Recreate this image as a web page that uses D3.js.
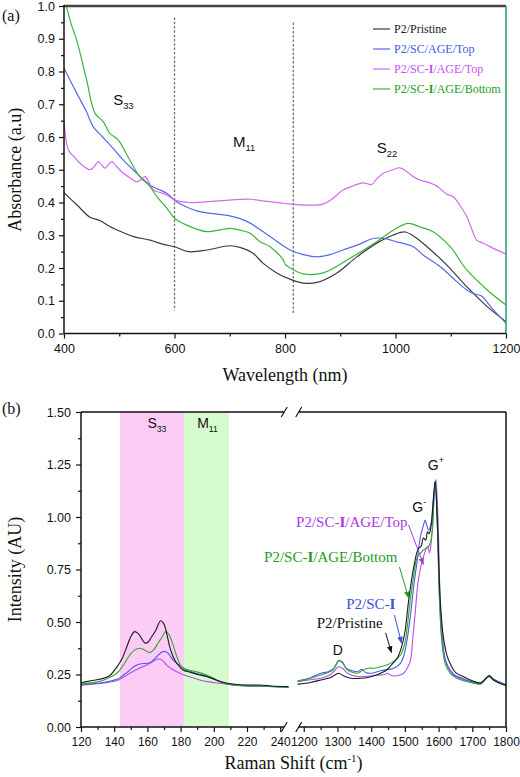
<!DOCTYPE html>
<html><head><meta charset="utf-8">
<script src="https://cdn.jsdelivr.net/npm/d3@7"></script>
<style>body{margin:0;background:#fff}</style>
</head><body>
<svg id="c" width="520" height="777" xmlns="http://www.w3.org/2000/svg"></svg>
<script>
// ---------- DATA: panel (a) absorbance ----------
const seriesNames = ["P2/Pristine", "P2/SC/AGE/Top", "P2/SC-I/AGE/Top", "P2/SC-I/AGE/Bottom"];
const absPristine = [[400,0.43],[425,0.39],[447,0.355],[465,0.345],[483,0.327],[505,0.31],[526,0.296],[556,0.285],[580,0.272],[600,0.265],[625,0.25],[659,0.255],[700,0.268],[720,0.262],[742,0.245],[760,0.215],[785,0.185],[809,0.166],[833,0.154],[858,0.156],[894,0.185],[930,0.234],[966,0.276],[995,0.3],[1017,0.31],[1035,0.295],[1057,0.265],[1093,0.209],[1129,0.143],[1166,0.082],[1200,0.036]];
const absSCTop = [[400,0.81],[423,0.734],[440,0.68],[453,0.631],[470,0.6],[489,0.565],[507,0.53],[525,0.5],[556,0.453],[586,0.428],[602,0.404],[620,0.388],[646,0.372],[700,0.359],[720,0.35],[737,0.337],[773,0.296],[809,0.255],[835,0.24],[858,0.234],[880,0.24],[905,0.255],[935,0.273],[959,0.29],[975,0.291],[1002,0.28],[1032,0.265],[1050,0.24],[1081,0.204],[1110,0.16],[1129,0.133],[1145,0.12],[1155,0.115],[1177,0.072],[1200,0.032]];
const absSCITop = [[400,0.65],[408,0.56],[418,0.54],[429,0.52],[447,0.5],[455,0.51],[462,0.525],[468,0.515],[474,0.505],[480,0.515],[487,0.525],[495,0.51],[507,0.49],[520,0.475],[532,0.463],[540,0.47],[547,0.479],[554,0.46],[562,0.438],[575,0.43],[586,0.423],[600,0.408],[628,0.4],[680,0.405],[737,0.41],[760,0.405],[800,0.397],[840,0.392],[869,0.395],[885,0.41],[905,0.438],[925,0.452],[941,0.46],[957,0.455],[965,0.47],[978,0.489],[995,0.5],[1008,0.506],[1020,0.495],[1032,0.479],[1045,0.468],[1057,0.463],[1075,0.45],[1093,0.425],[1104,0.418],[1117,0.39],[1129,0.357],[1140,0.31],[1147,0.285],[1160,0.275],[1177,0.26],[1200,0.243]];
const absSCIBottom = [[400,1.03],[412,0.95],[423,0.896],[441,0.774],[456,0.673],[471,0.647],[483,0.611],[498,0.591],[514,0.545],[537,0.479],[556,0.448],[568,0.418],[586,0.383],[600,0.352],[622,0.331],[658,0.311],[700,0.321],[720,0.315],[737,0.306],[755,0.28],[773,0.265],[797,0.224],[800,0.212],[805,0.205],[833,0.182],[869,0.185],[918,0.23],[966,0.28],[1000,0.32],[1023,0.336],[1045,0.325],[1068,0.311],[1099,0.265],[1129,0.194],[1166,0.133],[1200,0.087]];
const xTicksA = [400,600,800,1000,1200];
const xMinorA = [500,700,900,1100];
const yTicksA = [0,0.1,0.2,0.3,0.4,0.5,0.6,0.7,0.8,0.9,1.0];
const yMinorA = [0.05,0.15,0.25,0.35,0.45,0.55,0.65,0.75,0.85,0.95];
const dividersA = [600, 815];

// ---------- DATA: panel (b) Raman ----------
const rbmPristine = [[120,0.211],[126,0.22],[131,0.227],[137,0.243],[142,0.29],[145,0.33],[147.6,0.382],[150,0.43],[152.4,0.454],[155,0.44],[158.5,0.40],[160.5,0.405],[162.6,0.43],[165,0.46],[168,0.506],[170,0.49],[171.6,0.446],[173.5,0.38],[175.5,0.335],[178,0.3],[181.5,0.271],[186,0.26],[191.5,0.248],[196,0.24],[201.5,0.224],[206,0.212],[211.5,0.205],[220,0.2],[227.5,0.2],[235,0.195],[245,0.192]];
const rbmSCI = [[120,0.2],[130,0.208],[141.6,0.227],[146,0.25],[149.4,0.271],[152,0.288],[155.5,0.3],[161.5,0.306],[165,0.33],[169.3,0.359],[172,0.355],[175.5,0.319],[180,0.29],[183.7,0.271],[190,0.255],[195.5,0.243],[203.5,0.216],[211.5,0.2],[225,0.195],[245,0.19]];
const rbmSCITop = [[120,0.2],[130,0.206],[141.6,0.221],[146,0.24],[151,0.263],[155,0.28],[159.6,0.295],[163,0.31],[166.3,0.324],[169,0.318],[171.6,0.295],[175,0.275],[179.5,0.256],[185,0.24],[191.5,0.224],[197,0.215],[203.5,0.208],[211.5,0.2],[225,0.195],[245,0.19]];
const rbmSCIBottom = [[120,0.205],[130,0.215],[137,0.235],[141.6,0.256],[146,0.3],[149.4,0.343],[152,0.365],[155.5,0.375],[158,0.368],[161.5,0.354],[164,0.37],[166.3,0.398],[169,0.43],[171,0.454],[173,0.44],[175.5,0.39],[178,0.33],[180.5,0.287],[184,0.272],[187,0.268],[191,0.26],[195.5,0.248],[199,0.236],[203.5,0.216],[211.5,0.2],[225,0.195],[245,0.19]];

const gPristine = [[1182,0.203],[1220,0.212],[1251,0.224],[1280,0.236],[1295,0.25],[1304,0.256],[1319,0.243],[1340,0.232],[1370,0.232],[1390,0.236],[1410,0.245],[1428,0.256],[1445,0.27],[1457,0.29],[1478,0.33],[1490,0.38],[1500,0.45],[1511,0.6],[1525,0.75],[1540,0.85],[1548,0.86],[1555,0.9],[1562,0.89],[1567,0.93],[1572,0.92],[1578,0.96],[1583,1.05],[1590,1.17],[1596,1.0],[1605,0.6],[1614,0.43],[1625,0.34],[1635,0.3],[1650,0.26],[1673,0.24],[1700,0.22],[1725,0.21],[1740,0.23],[1750,0.245],[1762,0.225],[1780,0.21],[1800,0.2]];
const gSCI = [[1182,0.22],[1220,0.235],[1251,0.256],[1270,0.262],[1290,0.28],[1304,0.316],[1315,0.31],[1325,0.28],[1340,0.27],[1360,0.263],[1372,0.275],[1385,0.258],[1400,0.256],[1428,0.268],[1467,0.28],[1487,0.303],[1496,0.335],[1505,0.4],[1516,0.525],[1527,0.68],[1537,0.795],[1546,0.906],[1555,0.96],[1560,0.985],[1565,0.96],[1570,0.938],[1578,0.97],[1584,1.08],[1590,1.17],[1596,0.98],[1603,0.6],[1610,0.42],[1620,0.32],[1635,0.27],[1650,0.245],[1673,0.23],[1700,0.215],[1725,0.21],[1740,0.232],[1750,0.245],[1762,0.23],[1780,0.215],[1800,0.2]];
const gSCITop = [[1182,0.216],[1220,0.225],[1251,0.232],[1280,0.25],[1304,0.287],[1315,0.28],[1330,0.256],[1360,0.24],[1398,0.243],[1428,0.248],[1440,0.25],[1448,0.256],[1457,0.248],[1467,0.243],[1480,0.245],[1496,0.256],[1510,0.29],[1517,0.32],[1525,0.45],[1531,0.55],[1540,0.7],[1555,0.81],[1567,0.859],[1573,0.83],[1578,0.88],[1582,0.95],[1587,1.1],[1592,1.18],[1598,1.0],[1605,0.6],[1612,0.42],[1620,0.32],[1635,0.265],[1650,0.24],[1673,0.225],[1700,0.215],[1725,0.205],[1740,0.228],[1750,0.24],[1762,0.225],[1780,0.21],[1800,0.2]];
const gSCIBottom = [[1182,0.216],[1220,0.232],[1251,0.248],[1270,0.258],[1286,0.271],[1304,0.316],[1315,0.305],[1330,0.271],[1345,0.26],[1360,0.256],[1375,0.27],[1390,0.28],[1410,0.28],[1428,0.287],[1457,0.303],[1487,0.343],[1500,0.4],[1516,0.605],[1526,0.72],[1537,0.81],[1548,0.83],[1555,0.843],[1563,0.85],[1570,0.859],[1576,0.88],[1582,0.95],[1586,1.08],[1590,1.17],[1596,0.98],[1603,0.6],[1610,0.4],[1620,0.3],[1635,0.255],[1650,0.235],[1673,0.22],[1700,0.21],[1725,0.205],[1740,0.23],[1750,0.24],[1762,0.225],[1780,0.21],[1800,0.195]];
const xTicksL = [120,140,160,180,200,220,240];
const xMinorL = [130,150,170,190,210,230];
const xTicksR = [1200,1300,1400,1500,1600,1700,1800];
const xMinorR = [1250,1350,1450,1550,1650,1750];
const yTicksB = [0,0.25,0.5,0.75,1.0,1.25,1.5];
const yMinorB = [0.125,0.375,0.625,0.875,1.125,1.375];
const bandS33 = [143.5, 182];
const bandM11 = [182, 209];

// ---------- STYLE ----------
const SANS = "'Liberation Sans', Arial, sans-serif";
const SERIF = "'Liberation Serif', 'Times New Roman', Times, serif";
const colA = {black:"#3a3a3a", blue:"#5468ea", mag:"#d668f0", green:"#3cb43c"};
const colB = {black:"#1a1a1a", blue:"#4a5ae6", mag:"#b64cec", green:"#2ea82e"};

const svg = d3.select("#c");
const defs = svg.append("defs");

// ================= PANEL A =================
const xA = d3.scaleLinear().domain([400,1200]).range([64,506]);
const yA = d3.scaleLinear().domain([0,1]).range([333.5,6]);
defs.append("clipPath").attr("id","clipA").append("rect")
  .attr("x",xA(400)).attr("y",yA(1)).attr("width",xA(1200)-xA(400)).attr("height",yA(0)-yA(1));

const gA = svg.append("g");
gA.selectAll("line.div").data(dividersA).join("line")
  .attr("x1",d=>xA(d)).attr("x2",d=>xA(d))
  .attr("y1",(d,i)=>yA(i===0?0.965:0.95)).attr("y2",(d,i)=>yA(i===0?0.07:0.06))
  .attr("stroke","#707070").attr("stroke-width",1.3).attr("stroke-dasharray","2.5,1.8");

const lineA = d3.line().x(d=>xA(d[0])).y(d=>yA(d[1])).curve(d3.curveCatmullRom.alpha(0.5));
const seriesA = [[absPristine,colA.black],[absSCTop,colA.blue],[absSCITop,colA.mag],[absSCIBottom,colA.green]];
gA.append("g").attr("clip-path","url(#clipA)").selectAll("path").data(seriesA).join("path")
  .attr("d",d=>lineA(d[0])).attr("fill","none").attr("stroke",d=>d[1]).attr("stroke-width",1.2);

function styleAxis(g, fs){ g.selectAll("path.domain").remove(); g.selectAll("line").attr("stroke","#111").attr("stroke-width",1.2);
  g.selectAll("text").attr("font-family",SANS).attr("font-size",fs||12.5).attr("fill","#111"); }
svg.append("g").attr("transform",`translate(${xA(400)},0)`)
  .call(d3.axisLeft(yA).tickValues(yTicksA).tickSize(5).tickPadding(4).tickFormat(d3.format(".1f"))).call(styleAxis);
svg.append("g").attr("transform",`translate(${xA(400)},0)`)
  .call(d3.axisLeft(yA).tickValues(yMinorA).tickSize(3).tickFormat("")).call(styleAxis);
svg.append("g").attr("transform",`translate(0,${yA(0)})`)
  .call(d3.axisBottom(xA).tickValues(xTicksA).tickSize(5).tickPadding(6).tickFormat(d3.format("d"))).call(styleAxis);
svg.append("g").attr("transform",`translate(0,${yA(0)})`)
  .call(d3.axisBottom(xA).tickValues(xMinorA).tickSize(3).tickFormat("")).call(styleAxis);
svg.append("line").attr("x1",xA(400)).attr("x2",xA(1200)).attr("y1",yA(1)).attr("y2",yA(1)).attr("stroke","#444").attr("stroke-width",2.5);
svg.append("line").attr("x1",xA(1200)).attr("x2",xA(1200)).attr("y1",yA(1)).attr("y2",yA(0)).attr("stroke","#1e9e6a").attr("stroke-width",1.5);
svg.append("line").attr("x1",xA(400)).attr("x2",xA(400)).attr("y1",yA(1)-1).attr("y2",yA(0)).attr("stroke","#111").attr("stroke-width",1.5);
svg.append("line").attr("x1",xA(400)).attr("x2",xA(1200)).attr("y1",yA(0)).attr("y2",yA(0)).attr("stroke","#111").attr("stroke-width",1.5);

function subLabel(parent,x,y,main,sub,size){
  const t = parent.append("text").attr("x",x).attr("y",y).attr("font-family",SANS).attr("font-size",size).attr("fill","#111");
  t.append("tspan").text(main);
  t.append("tspan").attr("dy",4).attr("font-size",size*0.62).text(sub);
  return t;
}
subLabel(svg,xA(489),yA(0.698),"S","33",15);
subLabel(svg,xA(706),yA(0.57),"M","11",15);
subLabel(svg,xA(966),yA(0.552),"S","22",15);

const legCols = [colA.black,colA.blue,colA.mag,colA.green];
const legTxtCols = ["#222","#4658e0","#c850ee","#22a022"];
const leg = svg.append("g");
seriesNames.forEach((n,i)=>{
  const y = 29 + i*20;
  leg.append("line").attr("x1",373).attr("x2",390).attr("y1",y).attr("y2",y).attr("stroke",legCols[i]).attr("stroke-width",1.2);
  const t = leg.append("text").attr("x",394).attr("y",y+4).attr("font-family",SERIF).attr("font-size",12).attr("fill",legTxtCols[i]);
  const parts = n.split("SC-I");
  if(parts.length>1){ t.append("tspan").text(parts[0]+"SC-"); t.append("tspan").attr("font-weight","bold").text("I"); t.append("tspan").text(parts[1]); }
  else t.text(n);
});

svg.append("text").attr("x",2).attr("y",21).attr("font-family",SERIF).attr("font-size",16).attr("fill","#111").text("(a)");
svg.append("text").attr("transform",`translate(21,${(yA(0)+yA(1))/2}) rotate(-90)`).attr("text-anchor","middle")
  .attr("font-family",SERIF).attr("font-size",18).attr("fill","#111").text("Absorbance (a.u)");
svg.append("text").attr("x",(xA(400)+xA(1200))/2).attr("y",381).attr("text-anchor","middle")
  .attr("font-family",SERIF).attr("font-size",18).attr("fill","#111").text("Wavelength (nm)");

// ================= PANEL B =================
const yB = d3.scaleLinear().domain([0,1.5]).range([727,412]);
const xL = d3.scaleLinear().domain([120,245]).range([81,288.5]);
const xR = d3.scaleLinear().domain([1180,1800]).range([297,506]);

svg.append("rect").attr("x",xL(bandS33[0])).attr("width",xL(bandS33[1])-xL(bandS33[0]))
  .attr("y",yB(1.5)).attr("height",yB(0)-yB(1.5)).attr("fill","#fdccf6");
svg.append("rect").attr("x",xL(bandM11[0])).attr("width",xL(bandM11[1])-xL(bandM11[0]))
  .attr("y",yB(1.5)).attr("height",yB(0)-yB(1.5)).attr("fill","#d6fbcc");

const lineL = d3.line().x(d=>xL(d[0])).y(d=>yB(d[1])).curve(d3.curveCatmullRom.alpha(0.5));
const lineR = d3.line().x(d=>xR(d[0])).y(d=>yB(d[1])).curve(d3.curveCatmullRom.alpha(0.5));
const seriesL = [[rbmSCITop,colB.mag],[rbmSCI,colB.blue],[rbmSCIBottom,colB.green],[rbmPristine,colB.black]];
const seriesR = [[gSCITop,colB.mag],[gSCI,colB.blue],[gSCIBottom,colB.green],[gPristine,colB.black]];
svg.append("g").selectAll("path").data(seriesL).join("path").attr("d",d=>lineL(d[0]))
  .attr("fill","none").attr("stroke",d=>d[1]).attr("stroke-width",1.1);
svg.append("g").selectAll("path").data(seriesR).join("path").attr("d",d=>lineR(d[0]))
  .attr("fill","none").attr("stroke",d=>d[1]).attr("stroke-width",1.1);

svg.append("g").attr("transform",`translate(${xL(120)},0)`)
  .call(d3.axisLeft(yB).tickValues(yTicksB).tickSize(5).tickPadding(5).tickFormat(d3.format(".2f"))).call(g=>styleAxis(g,12.5));
svg.append("g").attr("transform",`translate(${xL(120)},0)`)
  .call(d3.axisLeft(yB).tickValues(yMinorB).tickSize(3).tickFormat("")).call(styleAxis);
svg.append("g").attr("transform",`translate(0,${yB(0)})`)
  .call(d3.axisBottom(xL).tickValues(xTicksL).tickSize(5).tickPadding(5).tickFormat(d3.format("d"))).call(g=>styleAxis(g,12));
svg.append("g").attr("transform",`translate(0,${yB(0)})`)
  .call(d3.axisBottom(xL).tickValues(xMinorL).tickSize(3).tickFormat("")).call(styleAxis);
svg.append("g").attr("transform",`translate(0,${yB(0)})`)
  .call(d3.axisBottom(xR).tickValues(xTicksR).tickSize(5).tickPadding(5).tickFormat(d3.format("d"))).call(g=>styleAxis(g,12));
svg.append("g").attr("transform",`translate(0,${yB(0)})`)
  .call(d3.axisBottom(xR).tickValues(xMinorR).tickSize(3).tickFormat("")).call(styleAxis);

const fr = svg.append("g").attr("stroke","#111").attr("stroke-width",1.5);
[yB(0),yB(1.5)].forEach(y=>{
  fr.append("line").attr("x1",xL(120)).attr("x2",xL(240)+4).attr("y1",y).attr("y2",y);
  fr.append("line").attr("x1",xR(1200)-5).attr("x2",xR(1800)).attr("y1",y).attr("y2",y);
  [xL(240)+4, xR(1200)-5].forEach(x=>{
    fr.append("line").attr("x1",x-3).attr("x2",x+3).attr("y1",y+5).attr("y2",y-5).attr("stroke-width",1.2);
  });
});
fr.append("line").attr("x1",xL(120)).attr("x2",xL(120)).attr("y1",yB(1.5)).attr("y2",yB(0));
fr.append("line").attr("x1",xR(1800)).attr("x2",xR(1800)).attr("y1",yB(1.5)).attr("y2",yB(0));

subLabel(svg,xL(160),yB(1.425),"S","33",14);
subLabel(svg,xL(190),yB(1.425),"M","11",14);
svg.append("text").attr("x",xR(1301)).attr("y",yB(0.343)).attr("text-anchor","middle").attr("font-family",SANS).attr("font-size",14).attr("fill","#111").text("D");
function supLabel(x,y,main,sup){
  const t = svg.append("text").attr("x",x).attr("y",y).attr("font-family",SANS).attr("font-size",14).attr("fill","#111");
  t.append("tspan").text(main); t.append("tspan").attr("dy",-7).attr("font-size",9).text(sup);
}
supLabel(xR(1540)-6,yB(1.024),"G","-");
supLabel(xR(1586)-6,yB(1.224),"G","+");

const annots = [
  {name:"P2/SC-I/AGE/Top", col:"#a838e6", tx:1508, ty:0.952, a:[[1511,0.962],[1555,0.775]]},
  {name:"P2/SC-I/AGE/Bottom", col:"#239c23", tx:1478, ty:0.786, a:[[1484,0.762],[1511,0.615]]},
  {name:"P2/SC-I", col:"#3a52d8", tx:1472, ty:0.562, a:[[1469,0.533],[1490,0.40]]},
  {name:"P2/Pristine", col:"#111", tx:1434, ty:0.471, a:[[1443,0.448],[1460,0.355]]}
];
annots.forEach((d,i)=>{
  const m = defs.append("marker").attr("id","ar"+i).attr("viewBox","0 0 10 10").attr("refX",9).attr("refY",5)
    .attr("markerWidth",7).attr("markerHeight",7).attr("orient","auto").attr("markerUnits","userSpaceOnUse");
  m.append("path").attr("d","M0,1 L10,5 L0,9 Z").attr("fill",d.col);
  svg.append("line").attr("x1",xR(d.a[0][0])).attr("y1",yB(d.a[0][1])).attr("x2",xR(d.a[1][0])).attr("y2",yB(d.a[1][1]))
    .attr("stroke",d.col).attr("stroke-width",1).attr("marker-end",`url(#ar${i})`);
  const t = svg.append("text").attr("x",xR(d.tx)).attr("y",yB(d.ty)).attr("text-anchor","end")
    .attr("font-family",SERIF).attr("font-size",15).attr("fill",d.col);
  const parts = d.name.split("SC-I");
  if(parts.length>1){ t.append("tspan").text(parts[0]+"SC-"); t.append("tspan").attr("font-weight","bold").text("I"); if(parts[1]) t.append("tspan").text(parts[1]); }
  else t.text(d.name);
});

svg.append("text").attr("x",2).attr("y",414).attr("font-family",SERIF).attr("font-size",16).attr("fill","#111").text("(b)");
svg.append("text").attr("transform",`translate(21,${(yB(0)+yB(1.5))/2}) rotate(-90)`).attr("text-anchor","middle")
  .attr("font-family",SERIF).attr("font-size",18).attr("fill","#111").text("Intensity (AU)");
const xt = svg.append("text").attr("x",(xL(120)+xR(1800))/2).attr("y",769).attr("text-anchor","middle")
  .attr("font-family",SERIF).attr("font-size",18).attr("fill","#111");
xt.append("tspan").text("Raman Shift (cm");
xt.append("tspan").attr("dy",-7).attr("font-size",11).text("-1");
xt.append("tspan").attr("dy",7).text(")");
</script>
</body></html>
